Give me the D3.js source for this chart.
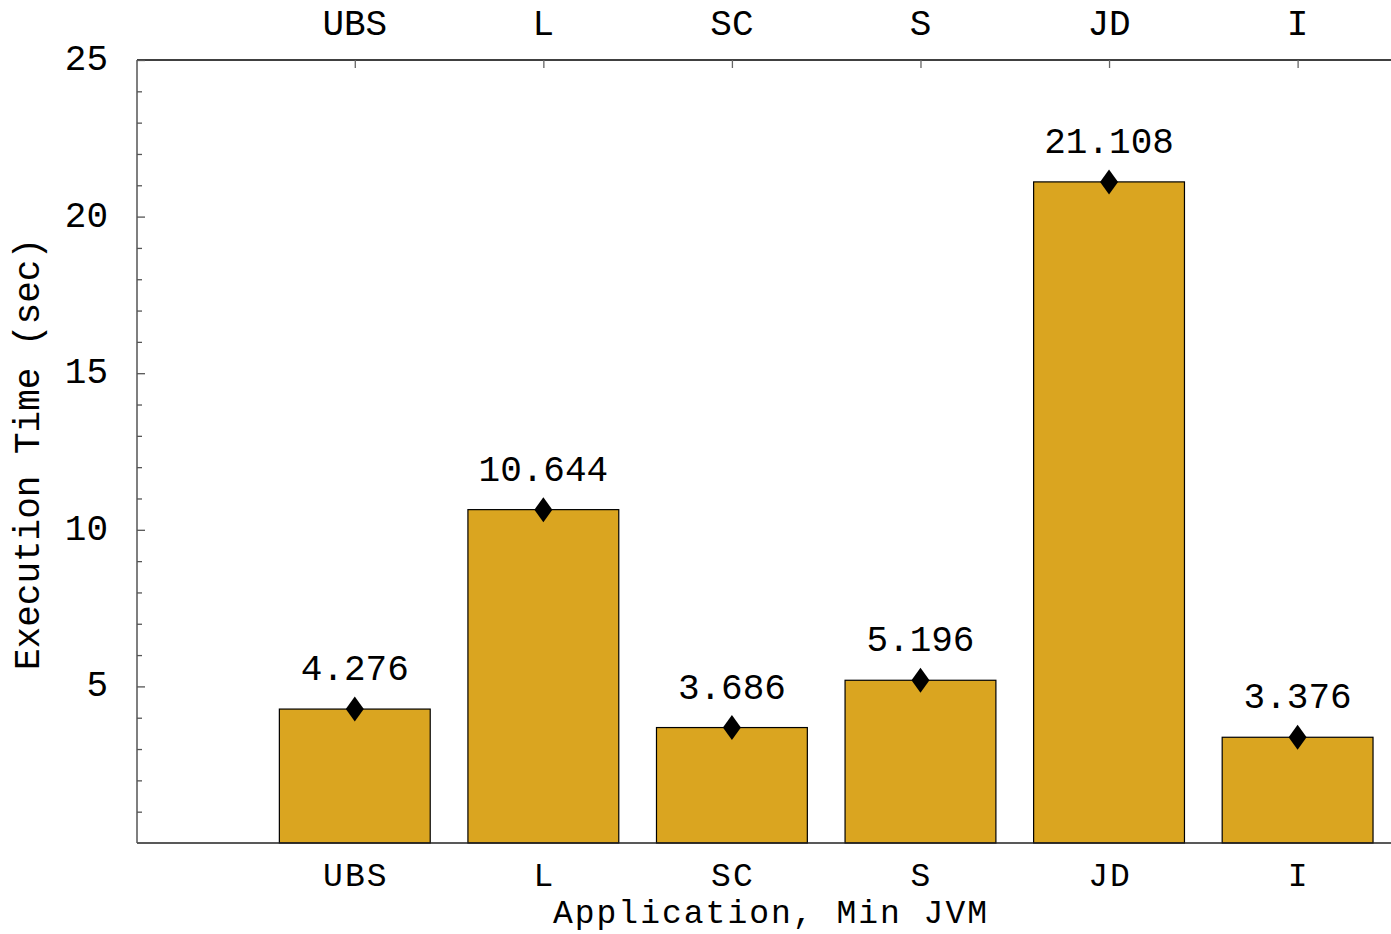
<!DOCTYPE html>
<html>
<head>
<meta charset="utf-8">
<script src="https://cdn.jsdelivr.net/npm/d3@7"></script>
<style>
  html, body { margin: 0; padding: 0; background: #fff; }
  svg { display: block; }
  text { font-family: "Liberation Mono", "Courier New", monospace; fill: #000; }
</style>
</head>
<body>
<svg id="chart" width="1391" height="934"></svg>
<script>
// Execution time per application on the minimal JVM
const categories = ["UBS", "L", "SC", "S", "JD", "I"];
const execTimes = [4.276, 10.644, 3.686, 5.196, 21.108, 3.376];
const valueLabels = ["4.276", "10.644", "3.686", "5.196", "21.108", "3.376"];
const yMajorTicks = [5, 10, 15, 20, 25];
const yMinorTicks = d3.range(1, 25);

const plot = { left: 137, right: 1390, top: 60, bottom: 843 };
const fontSize = 36;
const bottomFontSize = 33;   // the two rows under the plot share little room
const bottomSpacing = 2;

const svg = d3.select("#chart");

// bars sit at positions 1..n
const x = d3.scaleLinear().domain([-0.155, 6.49]).range([plot.left, plot.right]);
const y = d3.scaleLinear().domain([0, 25]).range([plot.bottom, plot.top]);
const barWidth = 0.8;

// bars
svg.append("g").selectAll("rect")
  .data(execTimes)
  .join("rect")
  .attr("x", (d, i) => x(i + 1 - barWidth / 2))
  .attr("width", (d, i) => x(i + 1 + barWidth / 2) - x(i + 1 - barWidth / 2))
  .attr("y", d => y(d))
  .attr("height", d => y(0) - y(d))
  .attr("fill", "#DAA520")
  .attr("stroke", "#000")
  .attr("stroke-width", 1.2);

// diamond markers at each value
const diamondPath = "M0,-12.5L9,0L0,12.5L-9,0Z";
svg.append("g").selectAll("path")
  .data(execTimes)
  .join("path")
  .attr("d", diamondPath)
  .attr("transform", (d, i) => `translate(${x(i + 1)},${y(d)})`)
  .attr("fill", "#000");

// value labels
svg.append("g").selectAll("text")
  .data(execTimes)
  .join("text")
  .attr("x", (d, i) => x(i + 1))
  .attr("y", d => y(d) - 29)
  .attr("text-anchor", "middle")
  .attr("font-size", fontSize)
  .text((d, i) => valueLabels[i]);

// frame lines
const frame = svg.append("g");
frame.append("line")
  .attr("x1", plot.left).attr("x2", plot.right + 1)
  .attr("y1", plot.top).attr("y2", plot.top)
  .attr("stroke", "#000").attr("stroke-width", 1.5);
frame.append("line")
  .attr("x1", plot.left).attr("x2", plot.right + 1)
  .attr("y1", plot.bottom).attr("y2", plot.bottom)
  .attr("stroke", "#222").attr("stroke-width", 1.5);
frame.append("line")
  .attr("x1", plot.left).attr("x2", plot.left)
  .attr("y1", plot.top).attr("y2", plot.bottom)
  .attr("stroke", "#555").attr("stroke-width", 1.5);

// left axis ticks and labels
const yAxis = d3.axisRight(y)
  .tickValues(yMajorTicks)
  .tickSize(8)
  .tickFormat("");
svg.append("g")
  .attr("transform", `translate(${plot.left},0)`)
  .call(yAxis)
  .call(g => g.select(".domain").remove())
  .call(g => g.selectAll("line").attr("stroke", "#555").attr("stroke-width", 1.3));

const yMinor = d3.axisRight(y)
  .tickValues(yMinorTicks.filter(v => v % 5 !== 0))
  .tickSize(5)
  .tickFormat("");
svg.append("g")
  .attr("transform", `translate(${plot.left},0)`)
  .call(yMinor)
  .call(g => g.select(".domain").remove())
  .call(g => g.selectAll("line").attr("stroke", "#555").attr("stroke-width", 1.3));

svg.append("g").selectAll("text")
  .data(yMajorTicks)
  .join("text")
  .attr("x", 108)
  .attr("y", d => y(d) + 10)
  .attr("text-anchor", "end")
  .attr("font-size", fontSize)
  .text(d => d);

// top axis ticks at each category
const topAxis = d3.axisBottom(x)
  .tickValues(d3.range(1, categories.length + 1))
  .tickSize(8)
  .tickFormat("");
svg.append("g")
  .attr("transform", `translate(0,${plot.top})`)
  .call(topAxis)
  .call(g => g.select(".domain").remove())
  .call(g => g.selectAll("line").attr("stroke", "#666").attr("stroke-width", 1.3));

// category labels, top and bottom
svg.append("g").selectAll("text")
  .data(categories)
  .join("text")
  .attr("x", (d, i) => x(i + 1))
  .attr("y", 35)
  .attr("text-anchor", "middle")
  .attr("font-size", fontSize)
  .text(d => d);

svg.append("g").selectAll("text")
  .data(categories)
  .join("text")
  .attr("x", (d, i) => x(i + 1) + bottomSpacing / 2)
  .attr("y", 886)
  .attr("text-anchor", "middle")
  .attr("font-size", bottomFontSize)
  .attr("letter-spacing", bottomSpacing)
  .text(d => d);

// axis titles
svg.append("text")
  .attr("x", 771)
  .attr("y", 923)
  .attr("text-anchor", "middle")
  .attr("font-size", bottomFontSize)
  .attr("letter-spacing", bottomSpacing)
  .text("Application, Min JVM");

svg.append("text")
  .attr("transform", `translate(39,454) rotate(-90)`)
  .attr("text-anchor", "middle")
  .attr("font-size", fontSize)
  .text("Execution Time (sec)");
</script>
</body>
</html>
